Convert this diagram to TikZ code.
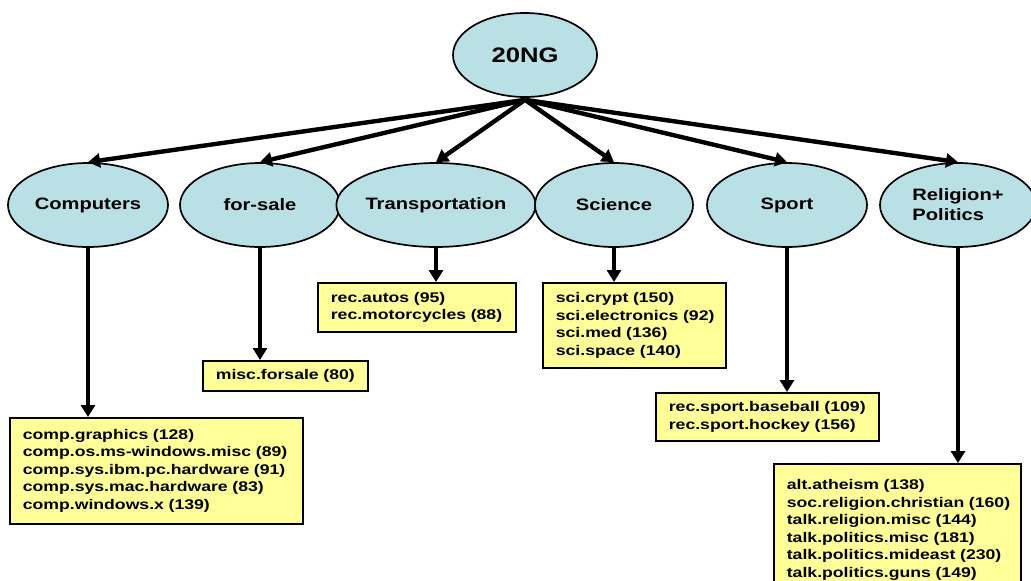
\documentclass[tikz,border=0pt]{standalone}
\usepackage{fontspec}
\setmainfont{Liberation Sans}[FakeStretch=1.22]
\newfontfamily\leaffont{Liberation Sans}[FakeStretch=1.26]
\usetikzlibrary{shapes.geometric,arrows.meta}
\definecolor{catblue}{RGB}{185,224,228}
\definecolor{leafyellow}{RGB}{255,255,153}
\begin{document}
\begin{tikzpicture}[x=1pt,y=-1pt,
  cat/.style={ellipse, draw, line width=1.7pt, fill=catblue,
    minimum width=160pt, minimum height=84pt, inner sep=0pt,
    font=\fontsize{16.5}{20}\selectfont\bfseries},
  leaf/.style={rectangle, draw, line width=1.7pt, fill=leafyellow,
    align=left, inner xsep=13pt, inner ysep=0pt, anchor=north west,
    font=\leaffont\fontsize{14}{17.5}\selectfont\bfseries},
  link/.style={line width=4pt, -{Triangle[width=14pt,length=12pt]}}]
\useasboundingbox (0,0) rectangle (1031,581);

% root and categories
\node[cat, minimum width=144pt, font=\fontsize{21}{24}\selectfont\bfseries] (root) at (525,55) {20NG};
\node[cat] (comp)  at (88,205)  {Computers};
\node[cat] (sale)  at (260,205) {for-sale};
\node[cat, minimum width=164pt] (trans) at (436,205) {Transportation};
\node[cat, minimum width=158pt] (sci)   at (614,205) {Science};
\node[cat] (sport) at (787,205) {Sport};
\node[cat, minimum width=156pt, align=left] (rel) at (958,205) {Religion+\\Politics};

% newsgroup lists (non-breaking spaces keep each entry on one line)
\node[leaf, text width=267pt, minimum height=106pt] (lcomp) at (9,417)
  {comp.graphics~(128)\\comp.os.ms-windows.misc~(89)\\comp.sys.ibm.pc.hardware~(91)\\comp.sys.mac.hardware~(83)\\comp.windows.x~(139)};
\node[leaf, text width=139pt, minimum height=30pt] (lsale) at (202,360)
  {misc.forsale~(80)};
\node[leaf, text width=172pt, minimum height=49pt] (ltrans) at (317,282)
  {rec.autos~(95)\\rec.motorcycles~(88)};
\node[leaf, text width=157pt, minimum height=85pt] (lsci) at (542,282)
  {sci.crypt~(150)\\sci.electronics~(92)\\sci.med~(136)\\sci.space~(140)};
\node[leaf, text width=197pt, minimum height=48pt] (lsport) at (655,392)
  {rec.sport.baseball~(109)\\rec.sport.hockey~(156)};
\node[leaf, text width=221pt, minimum height=132pt] (lrel) at (773,463)
  {alt.atheism~(138)\\soc.religion.christian~(160)\\talk.religion.misc~(144)\\talk.politics.misc~(181)\\talk.politics.mideast~(230)\\talk.politics.guns~(149)\\[9pt]};

% connectors
\coordinate (hub) at ([yshift=-2pt]root.south);
\foreach \c in {comp,sale,trans,sci,sport,rel}
  \draw[link, line width=4.4pt] (hub) -- (\c.north);
\draw[link] (comp.south)  -- (comp.south |- lcomp.north);
\draw[link] (sale.south)  -- (sale.south |- lsale.north);
\draw[link] (trans.south) -- (trans.south |- ltrans.north);
\draw[link] (sci.south)   -- (sci.south |- lsci.north);
\draw[link] (sport.south) -- (sport.south |- lsport.north);
\draw[link] (rel.south)   -- (rel.south |- lrel.north);
\end{tikzpicture}
\end{document}
